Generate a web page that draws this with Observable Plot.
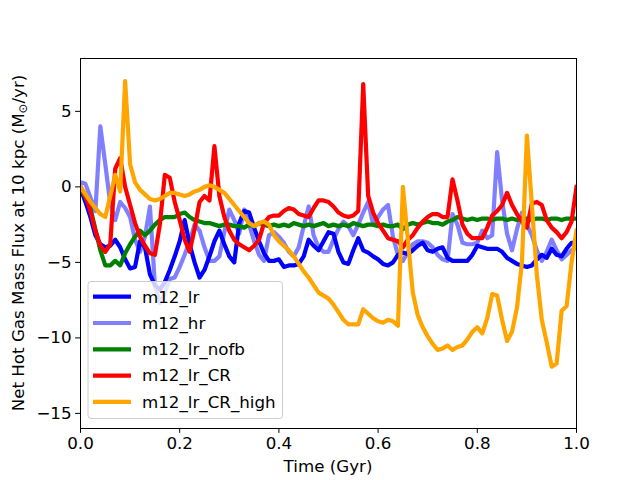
<!DOCTYPE html>
<html><head><meta charset="utf-8">
<script src="https://cdn.jsdelivr.net/npm/d3@7"></script>
<script src="https://cdn.jsdelivr.net/npm/@observablehq/plot@0.6"></script>
<style>body{margin:0;background:#fff} svg{font-family:"DejaVu Sans",sans-serif}</style>
</head><body><div id="chart"></div>
<script>
const time = [0,0.01,0.02,0.03,0.04,0.05,0.06,0.07,0.08,0.09,
0.10,0.11,0.12,0.13,0.14,0.15,0.16,0.17,0.18,0.19,
0.20,0.21,0.22,0.23,0.24,0.25,0.26,0.27,0.28,0.29,
0.30,0.31,0.32,0.33,0.34,0.35,0.36,0.37,0.38,0.39,
0.40,0.41,0.42,0.43,0.44,0.45,0.46,0.47,0.48,0.49,
0.50,0.51,0.52,0.53,0.54,0.55,0.56,0.57,0.58,0.59,
0.60,0.61,0.62,0.63,0.64,0.65,0.66,0.67,0.68,0.69,
0.70,0.71,0.72,0.73,0.74,0.75,0.76,0.77,0.78,0.79,
0.80,0.81,0.82,0.83,0.84,0.85,0.86,0.87,0.88,0.89,
0.90,0.91,0.92,0.93,0.94,0.95,0.96,0.97,0.98,0.99,1.00];

const m12_lr = [-0.1,-1.0,-2.0,-3.2,-3.8,-4.0,-3.9,-3.5,-4.0,-4.8,
-5.4,-5.3,-3.6,-4.0,-5.8,-6.5,-6.8,-6.3,-5.5,-4.6,
-3.6,-2.2,-3.8,-5.0,-6.0,-5.5,-4.6,-3.6,-2.9,-3.8,
-4.6,-5.0,-2.4,-1.6,-1.7,-2.7,-3.6,-4.4,-4.9,-4.9,
-4.8,-5.3,-5.2,-5.2,-5.1,-4.6,-3.5,-3.9,-4.2,-3.6,
-3.0,-3.1,-4.3,-5.0,-5.1,-4.2,-3.4,-4.2,-4.35,-4.6,
-4.8,-5.1,-5.2,-5.0,-4.5,-4.35,-4.45,-4.2,-3.9,-3.7,
-4.2,-4.3,-4.1,-4.0,-4.7,-4.9,-4.9,-4.9,-4.9,-4.5,
-3.9,-4.0,-4.1,-4.1,-4.1,-4.3,-4.7,-4.9,-5.1,-5.2,
-5.3,-5.2,-4.8,-4.5,-4.7,-4.1,-4.5,-4.6,-4.1,-3.7,-3.7];

const m12_hr = [0.3,0.2,-0.7,-1.6,4.0,1.5,-1.1,-2.2,-1.0,-1.4,
-2.0,-3.5,-4.3,-3.3,-1.3,-6.5,-7.7,-7.0,-6.1,-6.0,
-5.3,-4.5,-3.6,-2.5,-2.9,-4.0,-4.9,-4.9,-4.6,-3.0,
-1.5,-2.2,-3.1,-1.5,-2.5,-3.6,-4.5,-4.9,-3.2,-3.0,
-3.3,-3.7,-4.3,-4.6,-4.0,-2.6,-1.3,-3.2,-4.0,-4.3,
-4.3,-3.5,-2.8,-2.3,-2.6,-3.2,-2.5,-1.7,-1.0,-2.5,
-2.0,-1.5,-1.2,-3.3,-4.5,-4.9,-4.3,-3.8,-3.6,-3.6,
-3.7,-4.0,-4.5,-4.8,-4.9,-1.8,-2.5,-3.7,-3.8,-3.8,
-3.7,-2.9,-3.4,-3.2,2.3,-0.9,-3.1,-4.2,-2.8,-1.7,
-2.5,-3.2,-4.2,-4.9,-4.3,-3.5,-4.2,-4.8,-4.5,-4.2,-4.0];

const m12_lr_nofb = [-0.1,-0.7,-1.4,-2.8,-4.2,-5.2,-5.2,-4.9,-5.2,-4.4,
-3.8,-3.3,-2.9,-3.2,-2.9,-2.5,-2.2,-2.0,-2.0,-2.0,
-1.8,-1.7,-2.0,-2.2,-2.3,-2.4,-2.4,-2.5,-2.6,-2.5,
-2.5,-2.6,-2.6,-2.7,-2.5,-2.6,-2.4,-2.5,-2.6,-2.5,
-2.6,-2.5,-2.6,-2.4,-2.5,-2.6,-2.5,-2.6,-2.5,-2.4,
-2.6,-2.5,-2.6,-2.5,-2.6,-2.4,-2.5,-2.6,-2.5,-2.5,
-2.6,-2.5,-2.6,-2.6,-2.5,-2.8,-2.5,-2.4,-2.5,-2.4,
-2.3,-2.4,-2.4,-2.5,-2.3,-2.2,-2.0,-2.1,-2.2,-2.1,
-2.2,-2.1,-2.1,-2.2,-2.1,-2.1,-2.2,-2.1,-2.2,-2.1,
-2.1,-2.2,-2.1,-2.1,-2.2,-2.1,-2.1,-2.2,-2.1,-2.1,-2.1];

const m12_lr_CR = [0,-0.6,-1.6,-2.9,-3.9,-4.3,-3.8,1.2,1.9,0.0,
-1.2,-2.4,-3.3,-3.9,-4.4,-4.5,-2.5,0.8,0.6,-1.0,
-2.2,-3.5,-4.3,-2.8,-1.0,-0.6,-0.9,2.7,-0.6,-2.0,
-2.9,-3.5,-3.8,-4.0,-4.2,-3.9,-3.5,-2.4,-2.0,-1.9,
-1.9,-1.6,-1.4,-1.5,-1.8,-1.9,-2.0,-1.4,-0.9,-0.9,
-1.0,-1.3,-1.7,-1.9,-2.0,-1.9,-1.6,6.8,-0.6,-1.7,
-2.4,-2.9,-3.4,-3.5,-3.6,-4.0,-3.5,-3.2,-2.7,-2.3,
-2.0,-1.8,-1.8,-2.0,-2.0,0.5,-0.9,-2.5,-3.1,-3.4,
-3.4,-3.4,-2.7,-1.9,-1.6,-1.2,-0.4,-1.2,-1.8,-2.3,
-2.7,-1.1,-1.0,-1.2,-2.2,-2.7,-3.0,-3.4,-3.0,-2.3,0.0];

const m12_lr_CR_high = [0,-0.5,-1.0,-1.4,-1.8,-2.0,-0.6,0.8,-0.3,7.0,
1.5,0.3,-0.2,-0.5,-0.8,-0.9,-0.8,-0.6,-0.4,-0.4,
-0.5,-0.6,-0.5,-0.3,-0.2,0.0,0.1,0.0,-0.2,-0.4,
-0.8,-1.2,-1.6,-2.0,-2.4,-2.6,-2.4,-2.3,-2.5,-3.2,
-3.6,-3.9,-4.2,-4.6,-5.1,-5.6,-6.0,-6.5,-7.0,-7.2,
-7.4,-7.8,-8.3,-8.8,-9.1,-9.1,-9.1,-8.1,-8.4,-8.7,
-8.9,-9.0,-8.8,-8.9,-9.2,0.0,-3.5,-7.0,-8.5,-9.3,
-9.9,-10.4,-10.8,-10.7,-10.5,-10.8,-10.6,-10.5,-10.1,-9.6,
-9.3,-9.7,-8.7,-7.1,-7.2,-8.8,-10.2,-9.6,-8.0,-5.0,
3.4,-1.2,-5.8,-8.8,-10.3,-11.9,-11.7,-8.2,-7.9,-5.0,-2.9];

const seriesNames = ["m12_lr","m12_hr","m12_lr_nofb","m12_lr_CR","m12_lr_CR_high"];
const seriesValues = [m12_lr, m12_hr, m12_lr_nofb, m12_lr_CR, m12_lr_CR_high];
const seriesColors = ["blue","blue","green","red","orange"];
const seriesOpacity = [1,0.5,1,1,1];
const xTicks = [0,0.2,0.4,0.6,0.8,1.0];
const yTicks = [-15,-10,-5,0,5];
const xLabel = "Time (Gyr)";
const yLabelPre = "Net Hot Gas Mass Flux at 10 kpc (M";
const yLabelSub = "⊙";
const yLabelPost = "/yr)";

const FS = 16.7;

const rows = [];
seriesValues.forEach((vals, k) => vals.forEach((v, i) => rows.push({t: time[i], v, s: seriesNames[k]})));

const lineMarks = seriesNames.map((name, k) => Plot.line(rows.filter(d => d.s === name), {
  x: "t", y: "v", stroke: seriesColors[k], strokeOpacity: seriesOpacity[k],
  strokeWidth: 4.2, strokeLinejoin: "round", strokeLinecap: "square", clip: true
}));

const chart = Plot.plot({
  width: 640, height: 480,
  marginLeft: 80, marginRight: 64, marginTop: 58, marginBottom: 52,
  style: {fontFamily: "DejaVu Sans", fontSize: FS + "px", background: "white", color: "black", overflow: "visible"},
  x: {domain: [0, 1]},
  y: {domain: [-16, 8.5]},
  marks: [
    ...lineMarks,
    Plot.frame({stroke: "black", strokeWidth: 1}),
    Plot.axisX({ticks: xTicks, tickFormat: d3.format(".1f"), tickSize: 4.9, tickPadding: 4, label: null, fontSize: FS, stroke: "black"}),
    Plot.axisY({ticks: yTicks, tickSize: 4.9, tickPadding: 4, label: null, fontSize: FS, stroke: "black"})
  ]
});
document.getElementById("chart").appendChild(chart);

const svg = d3.select(chart);
svg.append("text").attr("x", 328).attr("y", 466).attr("dy", "0.35em")
  .attr("text-anchor", "middle").attr("font-size", FS).attr("fill", "black").text(xLabel);

const yl = svg.append("text").attr("transform", "translate(18,243) rotate(-90)").attr("dy", "0.35em")
  .attr("text-anchor", "middle").attr("font-size", FS).attr("fill", "black");
yl.append("tspan").text(yLabelPre);
yl.append("tspan").attr("font-size", 11.7).attr("dy", 3.5).text(yLabelSub);
yl.append("tspan").attr("dy", -3.5).text(yLabelPost);

const lg = svg.append("g");
lg.append("rect").attr("x", 88).attr("y", 281.5).attr("width", 194.5).attr("height", 137).attr("rx", 3)
  .attr("fill", "white").attr("fill-opacity", 0.8).attr("stroke", "#cccccc").attr("stroke-width", 1);
seriesNames.forEach((name, i) => {
  const y = 296.7 + i * 26.3;
  lg.append("line").attr("x1", 93).attr("x2", 131).attr("y1", y).attr("y2", y)
    .attr("stroke", seriesColors[i]).attr("stroke-opacity", seriesOpacity[i]).attr("stroke-width", 4.2);
  lg.append("text").attr("x", 142).attr("y", y).attr("dy", "0.35em").attr("text-anchor", "start")
    .attr("font-size", FS).attr("fill", "black").text(name);
});
</script>
</body></html>
